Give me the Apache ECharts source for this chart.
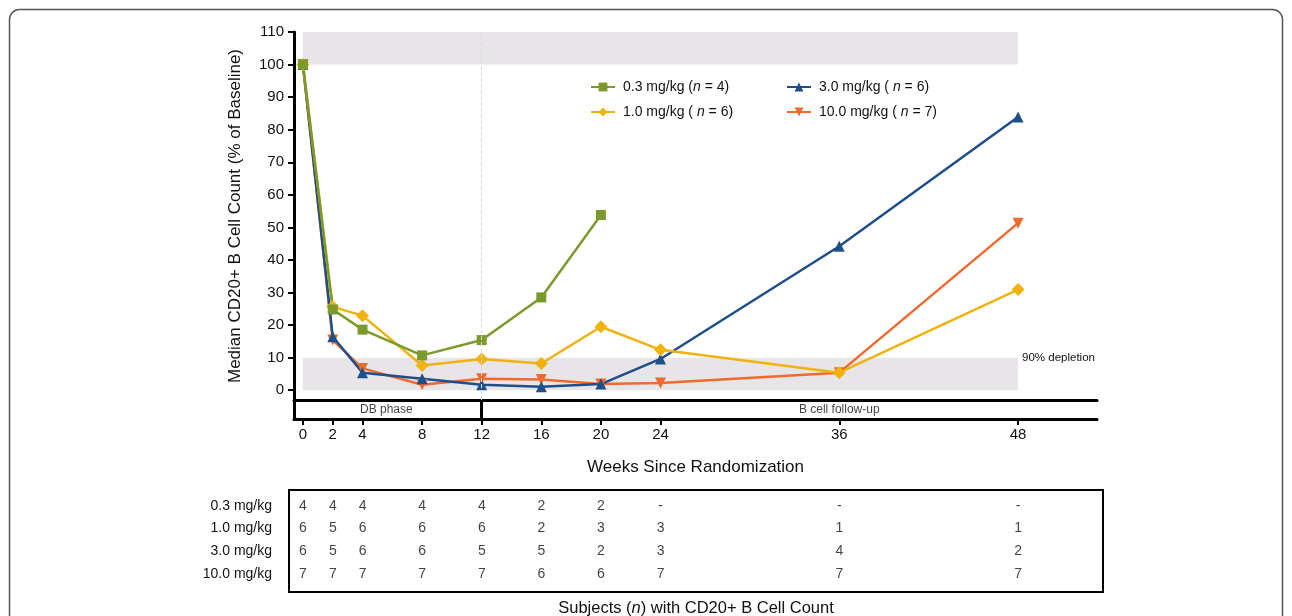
<!DOCTYPE html>
<html><head><meta charset="utf-8">
<script src="https://cdn.jsdelivr.net/npm/echarts@6/dist/echarts.min.js"></script>
<style>html,body{margin:0;padding:0;background:#fff}#c{width:1292px;height:616px}</style>
</head><body><div id="c"></div>
<script>
// ---- data ----
const weeks = [0, 2, 4, 8, 12, 16, 20, 24, 36, 48];
const seriesNames = ['0.3 mg/kg', '1.0 mg/kg', '3.0 mg/kg', '10.0 mg/kg'];
const legendPrefix = ['0.3 mg/kg (', '1.0 mg/kg ( ', '3.0 mg/kg ( ', '10.0 mg/kg ( '];
const legendN = [4, 6, 6, 7];
const dose03 = [100, 24.8, 18.6, 10.7, 15.4, 28.5, 53.8, null, null, null];
const dose10 = [100, 25.6, 22.9, 7.6, 9.6, 8.2, 19.5, 12.4, 5.4, 30.9];
const dose30 = [100, 16.4, 5.4, 3.5, 1.7, 1.1, 1.9, 9.6, 44.2, 83.9];
const dose100 = [100, 15.4, 6.7, 1.7, 3.5, 3.3, 1.9, 2.2, 5.4, 51.3];
const xTicks = [0, 2, 4, 8, 12, 16, 20, 24, 36, 48];
const yTicks = [0, 10, 20, 30, 40, 50, 60, 70, 80, 90, 100, 110];
const tableRowLabels = ['0.3 mg/kg', '1.0 mg/kg', '3.0 mg/kg', '10.0 mg/kg'];
const subj03 = ['4', '4', '4', '4', '4', '2', '2', '-', '-', '-'];
const subj10 = ['6', '5', '6', '6', '6', '2', '3', '3', '1', '1'];
const subj30 = ['6', '5', '6', '6', '5', '5', '2', '3', '4', '2'];
const subj100 = ['7', '7', '7', '7', '7', '6', '6', '7', '7', '7'];
const phaseNames = ['DB phase', 'B cell follow-up'];
const phaseCenters = [5.6, 36];
const phaseSplit = 12;
const depletionBand = [0, 10];
const baselineBand = [100, 110];
const bandWeeks = [0, 48];

// ---- styling ----
const FONT = 'Liberation Sans, Arial, Helvetica, sans-serif';
const colors = ['#7b9a2c', '#f0b20c', '#1e4f88', '#f06a2e'];
const symbols = ['rect', 'diamond', 'triangle', 'path://M0,0 L10,0 L5,9 Z'];
const symbolSizes = [10, 13, 11, 11];
const vals = [dose03, dose10, dose30, dose100];
const TXT = '#111';

function pts(v) {
  const out = [];
  weeks.forEach((w, i) => { if (v[i] !== null) out.push([w, v[i]]); });
  return out;
}

const lineSeries = [3, 2, 1, 0].map(i => ({
  name: seriesNames[i],
  type: 'line',
  xAxisIndex: 0, yAxisIndex: 0,
  data: pts(vals[i]),
  symbol: symbols[i],
  symbolSize: symbolSizes[i],
  showSymbol: true,
  lineStyle: { width: 2.5, color: colors[i] },
  itemStyle: { color: colors[i] },
  z: 3
}));

const bgSeries = {
  type: 'line', xAxisIndex: 0, yAxisIndex: 0, data: [], z: 1, silent: true,
  markArea: {
    silent: true,
    itemStyle: { color: '#e7e5e7' },
    data: [
      [{ xAxis: bandWeeks[0], yAxis: depletionBand[0],
         label: { show: true, formatter: '90% depletion', position: ['100%', '0%'], align: 'left', verticalAlign: 'middle', offset: [4, 0], fontSize: 11.5, color: TXT, fontFamily: FONT } },
       { xAxis: bandWeeks[1], yAxis: depletionBand[1] }],
      [{ xAxis: bandWeeks[0], yAxis: baselineBand[0], label: { show: false } },
       { xAxis: bandWeeks[1], yAxis: baselineBand[1] }]
    ]
  },
  markLine: {
    silent: true, symbol: ['none', 'none'], label: { show: false },
    lineStyle: { type: 'dashed', color: '#d9d9d9', width: 1 },
    data: [{ xAxis: phaseSplit }]
  }
};

const phaseSeries = {
  type: 'scatter', xAxisIndex: 1, yAxisIndex: 1, silent: true,
  symbolSize: 0.1, itemStyle: { color: 'rgba(0,0,0,0)' },
  data: phaseNames.map((n, i) => [phaseCenters[i], 0.5, n]),
  label: { show: true, position: 'inside', formatter: p => p.data[2], fontSize: 12, color: TXT, fontFamily: FONT },
  markLine: {
    silent: true, symbol: ['none', 'none'], label: { show: false },
    lineStyle: { type: 'solid', color: '#000', width: 3 },
    data: [{ xAxis: phaseSplit }]
  }
};

const tableRows = [subj03, subj10, subj30, subj100];
const tableData = [];
tableRows.forEach((row, r) => row.forEach((t, c) => tableData.push([weeks[c], r, t])));
const tableSeries = {
  type: 'scatter', xAxisIndex: 2, yAxisIndex: 2, silent: true,
  symbolSize: 0.1, itemStyle: { color: 'rgba(0,0,0,0)' },
  data: tableData,
  label: { show: true, position: 'inside', formatter: p => p.data[2], fontSize: 14, color: TXT, fontFamily: FONT }
};

const richLegend = {
  a: { fontSize: 14, color: TXT, fontFamily: FONT },
  i: { fontSize: 14, color: TXT, fontFamily: FONT, fontStyle: 'italic' }
};
function legendFmt(name) {
  const i = seriesNames.indexOf(name);
  return '{a|' + legendPrefix[i] + '}{i|n}{a| = ' + legendN[i] + ')}';
}
function mkLegend(left, names) {
  return {
    orient: 'vertical', left: left, top: 75, itemWidth: 24, itemHeight: 11, itemGap: 11,
    selectedMode: false, data: names, formatter: legendFmt,
    textStyle: { rich: richLegend, padding: [0, 0, 0, 3] }
  };
}

const blackAxis = { onZero: false, lineStyle: { color: '#000', width: 3 } };

const option = {
  animation: false,
  backgroundColor: '#fff',
  textStyle: { fontFamily: FONT },
  legend: [mkLegend(585, [seriesNames[0], seriesNames[1]]), mkLegend(781, [seriesNames[2], seriesNames[3]])],
  grid: [
    { left: 294, right: 195, top: 32, height: 368, outerBoundsMode: 'none' },
    { left: 294, right: 195, top: 400, height: 19, outerBoundsMode: 'none' },
    { left: 289, right: 189, top: 490, height: 102, outerBoundsMode: 'none', show: true, borderColor: '#000', borderWidth: 2, backgroundColor: 'rgba(0,0,0,0)' }
  ],
  xAxis: [
    { gridIndex: 0, type: 'value', min: -0.6, max: 53.3, axisLine: blackAxis, axisTick: { show: false }, axisLabel: { show: false }, splitLine: { show: false } },
    { gridIndex: 1, type: 'value', min: -0.6, max: 53.3, position: 'bottom', axisLine: blackAxis,
      axisTick: { show: true, length: 6, customValues: xTicks, lineStyle: { color: '#000', width: 2 } },
      axisLabel: { show: true, customValues: xTicks, fontSize: 15, color: TXT, margin: 8, fontFamily: FONT },
      splitLine: { show: false },
      name: 'Weeks Since Randomization', nameLocation: 'middle', nameGap: 40,
      nameTextStyle: { fontSize: 17, color: TXT, fontFamily: FONT } },
    { gridIndex: 2, type: 'value', min: -0.94, max: 53.7, axisLine: { show: false }, axisTick: { show: false }, axisLabel: { show: false }, splitLine: { show: false },
      name: '{a|Subjects (}{i|n}{a|) with CD20+ B Cell Count}', nameLocation: 'middle', nameGap: 8,
      nameTextStyle: { rich: { a: { fontSize: 16.5, color: TXT, fontFamily: FONT }, i: { fontSize: 16.5, color: TXT, fontFamily: FONT, fontStyle: 'italic' } } } }
  ],
  yAxis: [
    { gridIndex: 0, type: 'value', min: -3, max: 110, axisLine: blackAxis,
      axisTick: { show: true, length: 6, customValues: yTicks, lineStyle: { color: '#000', width: 2 } },
      axisLabel: { show: true, customValues: yTicks, fontSize: 15, color: TXT, margin: 10, fontFamily: FONT },
      splitLine: { show: false },
      name: 'Median CD20+ B Cell Count (% of Baseline)', nameLocation: 'middle', nameGap: 50,
      nameTextStyle: { fontSize: 17, color: TXT, fontFamily: FONT } },
    { gridIndex: 1, type: 'value', min: 0, max: 1, axisLine: blackAxis,
      axisTick: { show: false }, axisLabel: { show: false }, splitLine: { show: false } },
    { gridIndex: 2, type: 'value', min: -0.7, max: 3.8, inverse: true, axisLine: { show: false }, axisTick: { show: false },
      axisLabel: { show: true, customValues: [0, 1, 2, 3], formatter: v => tableRowLabels[v] || '', fontSize: 14, color: TXT, margin: 17, fontFamily: FONT },
      splitLine: { show: false } }
  ],
  graphic: [
    { type: 'rect', silent: true, z: 100, shape: { x: 9.5, y: 9.5, width: 1273, height: 700, r: 10 },
      style: { fill: 'none', stroke: '#555', lineWidth: 1.5 } }
  ],
  series: [bgSeries].concat(lineSeries, [phaseSeries, tableSeries])
};

const chart = echarts.init(document.getElementById('c'), null, { renderer: 'canvas' });
chart.setOption(option);
</script>
</body></html>
